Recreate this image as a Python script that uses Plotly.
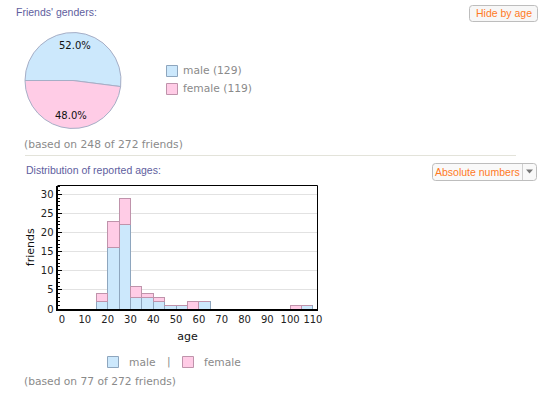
import math
import plotly.graph_objects as go

# ---------------- data ----------------
genders = ["male", "female"]
gender_counts = [129, 119]
total_friends = 272

age_bin_starts = [15, 20, 25, 30, 35, 40, 45, 50, 55, 60, 100, 105]
male_counts = [2, 16, 22, 3, 3, 2, 1, 1, 0, 2, 0, 1]
female_counts = [2, 7, 7, 3, 1, 1, 0, 0, 2, 0, 1, 0]
bin_width = 5
x_ticks = [0, 10, 20, 30, 40, 50, 60, 70, 80, 90, 100, 110]
y_ticks = [0, 5, 10, 15, 20, 25, 30]

# ---------------- style ----------------
W, H = 545, 395
MALE_FILL, FEMALE_FILL = "#cce8fc", "#ffcce6"
MALE_LINE, FEMALE_LINE = "#8ea6be", "#bf93ab"
HEAD = "#5e5e9e"
GREY = "#8a8a8a"
ORANGE = "#ff7a1f"
SANS = "DejaVu Sans"
ARIAL = "Liberation Sans"


def X(px):
    return px / W


def Y(py):
    return 1 - py / H


fig = go.Figure()

# ---- pie ----
pie_cx, pie_cy, pie_r = 73, 80.5, 48
fig.add_trace(go.Pie(
    labels=genders, values=gender_counts, sort=False,
    direction="clockwise", rotation=-90,
    marker=dict(colors=[MALE_FILL, FEMALE_FILL], line=dict(color="#a6aec6", width=1)),
    textinfo="none", hoverinfo="label+value+percent", showlegend=False,
    domain=dict(x=[X(pie_cx - pie_r), X(pie_cx + pie_r)],
                y=[Y(pie_cy + pie_r), Y(pie_cy - pie_r)]),
))

# ---- histogram (stacked bars) ----
centers = [b + bin_width / 2 for b in age_bin_starts]
fig.add_trace(go.Bar(x=centers, y=male_counts, width=bin_width, name="male",
                     marker=dict(color=MALE_FILL, line=dict(color=MALE_LINE, width=1)),
                     showlegend=False, xaxis="x", yaxis="y"))
fig.add_trace(go.Bar(x=centers, y=female_counts, width=bin_width, name="female",
                     marker=dict(color=FEMALE_FILL, line=dict(color=FEMALE_LINE, width=1)),
                     showlegend=False, xaxis="x", yaxis="y"))

ax_l, ax_r, ax_t, ax_b = 57.5, 317.5, 185.5, 309

fig.update_layout(
    width=W, height=H, autosize=False,
    margin=dict(l=0, r=0, t=0, b=0, pad=0, autoexpand=False),
    paper_bgcolor="white", plot_bgcolor="white",
    barmode="stack", bargap=0,
    xaxis=dict(domain=[X(ax_l), X(ax_r)], range=[-2, 112], tickvals=x_ticks, automargin=False,
               showgrid=False, zeroline=False, showline=True, linecolor="black",
               linewidth=2, ticks="", tickfont=dict(family=SANS, size=10, color="#222"),
               title=dict(text="age", font=dict(family=SANS, size=11, color="#111"), standoff=8),
               fixedrange=True),
    yaxis=dict(domain=[Y(ax_b), Y(ax_t)], range=[0, 32.3], tickvals=y_ticks, automargin=False,
               showgrid=True, gridcolor="#e2e2e2", gridwidth=1, zeroline=False,
               showline=True, linecolor="black", linewidth=2,
               ticks="inside", ticklen=4, tickcolor="black", tickwidth=1,
               minor=dict(ticks="inside", dtick=1, ticklen=2, tickcolor="black", showgrid=False),
               tickfont=dict(family=SANS, size=10, color="#222"),
               title=dict(text="friends", font=dict(family=SANS, size=11, color="#111"), standoff=4),
               fixedrange=True),
)

shapes = []
# top/right thin frame lines of the plot
shapes.append(dict(type="line", xref="x domain", yref="y domain", x0=0, x1=1, y0=1, y1=1,
                   line=dict(color="black", width=1)))
shapes.append(dict(type="line", xref="x domain", yref="y domain", x0=1, x1=1, y0=0, y1=1,
                   line=dict(color="black", width=1)))
# separator
shapes.append(dict(type="line", xref="paper", yref="paper", x0=X(25), x1=X(516), y0=Y(155.5), y1=Y(155.5),
                   line=dict(color="#e3e3da", width=1)))


def rrect(x0, y0, x1, y1, r):
    return (f"M {X(x0 + r)},{Y(y0)} L {X(x1 - r)},{Y(y0)} Q {X(x1)},{Y(y0)} {X(x1)},{Y(y0 + r)} "
            f"L {X(x1)},{Y(y1 - r)} Q {X(x1)},{Y(y1)} {X(x1 - r)},{Y(y1)} "
            f"L {X(x0 + r)},{Y(y1)} Q {X(x0)},{Y(y1)} {X(x0)},{Y(y1 - r)} "
            f"L {X(x0)},{Y(y0 + r)} Q {X(x0)},{Y(y0)} {X(x0 + r)},{Y(y0)} Z")


# buttons
shapes.append(dict(type="path", xref="paper", yref="paper", path=rrect(469.5, 5.5, 537.5, 21.5, 3),
                   fillcolor="#f7f7f7", line=dict(color="#bdbdbd", width=1)))
shapes.append(dict(type="path", xref="paper", yref="paper", path=rrect(432.5, 163.5, 536.5, 180.5, 3),
                   fillcolor="#f9f9f9", line=dict(color="#bdbdbd", width=1)))
shapes.append(dict(type="line", xref="paper", yref="paper", x0=X(522.5), x1=X(522.5), y0=Y(164), y1=Y(180),
                   line=dict(color="#cfcfcf", width=1)))
shapes.append(dict(type="path", xref="paper", yref="paper",
                   path=f"M {X(526)},{Y(169.5)} L {X(533)},{Y(169.5)} L {X(529.5)},{Y(173.5)} Z",
                   fillcolor="#777777", line=dict(width=0)))


# legend swatches
def swatch(x0, y0, x1, y1, fill, edge):
    shapes.append(dict(type="rect", xref="paper", yref="paper", x0=X(x0), x1=X(x1), y0=Y(y1), y1=Y(y0),
                       fillcolor=fill, line=dict(color=edge, width=1)))


swatch(166.5, 65.5, 177.5, 76.5, MALE_FILL, MALE_LINE)
swatch(166.5, 83.5, 177.5, 94.5, FEMALE_FILL, FEMALE_LINE)
swatch(107.5, 356.5, 118.5, 367.5, MALE_FILL, MALE_LINE)
swatch(182.5, 356.5, 193.5, 367.5, FEMALE_FILL, FEMALE_LINE)

annotations = []


def txt(x, y, s, size, color, family, xanchor="left"):
    annotations.append(dict(x=X(x), y=Y(y), xref="paper", yref="paper", text=s, showarrow=False,
                            xanchor=xanchor, yanchor="middle",
                            font=dict(size=size, color=color, family=family)))


txt(14, 12, "Friends' genders:", 10.5, HEAD, ARIAL)
txt(24, 169.5, "Distribution of reported ages:", 10.5, HEAD, ARIAL)
txt(503.5, 13.5, "Hide by age", 10.5, ORANGE, ARIAL, "center")
txt(477.5, 172, "Absolute numbers", 10.5, ORANGE, ARIAL, "center")

# pie percentage labels placed at slice mid-angles
total = sum(gender_counts)
start = -90.0
for v in gender_counts:
    span = 360.0 * v / total
    mid = math.radians(start + span / 2)
    lx = pie_cx + 0.73 * pie_r * math.sin(mid)
    ly = pie_cy - 0.73 * pie_r * math.cos(mid)
    txt(lx, ly, f"{100 * v / total:.1f}%", 10, "#111", SANS, "center")
    start += span

txt(181, 71, f"{genders[0]} ({gender_counts[0]})", 10.7, GREY, SANS)
txt(181, 89, f"{genders[1]} ({gender_counts[1]})", 10.7, GREY, SANS)
txt(22, 145, f"(based on {total} of {total_friends} friends)", 10.7, GREY, SANS)

txt(127, 362, genders[0], 10.7, GREY, SANS)
txt(168.5, 361.5, "|", 10.7, GREY, SANS, "center")
txt(202, 362, genders[1], 10.7, GREY, SANS)
n_ages = sum(male_counts) + sum(female_counts)
txt(22, 381.5, f"(based on {n_ages} of {total_friends} friends)", 10.7, GREY, SANS)

fig.update_layout(shapes=shapes, annotations=annotations)
fig.write_html("out.html", config={"displayModeBar": False},
               post_script="document.body.style.margin='0';document.body.style.overflow='hidden';")
